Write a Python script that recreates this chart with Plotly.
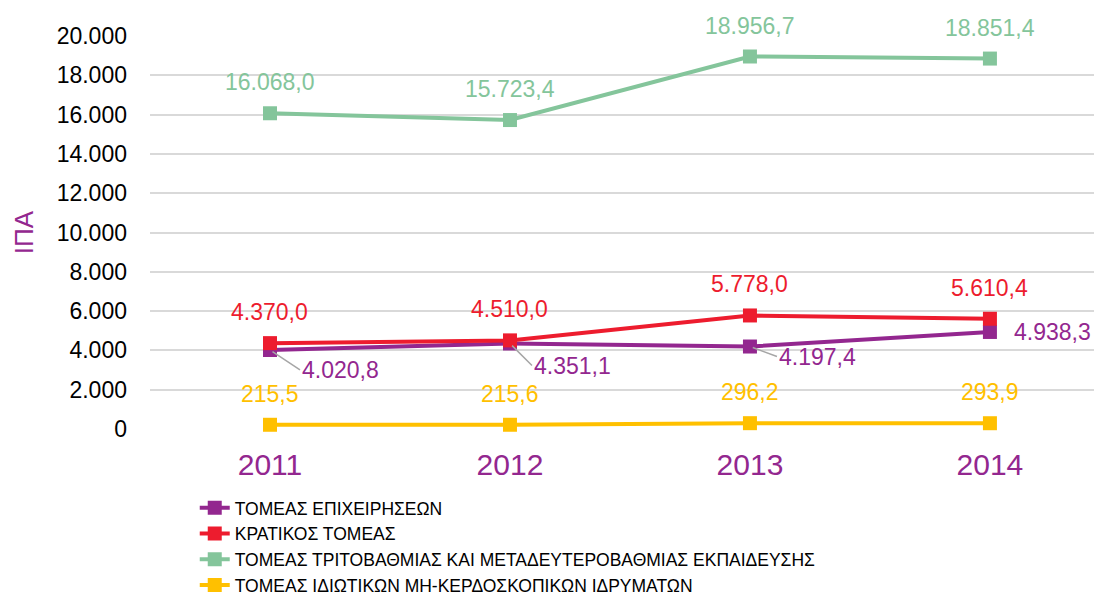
import plotly.graph_objects as go

years = ["2011", "2012", "2013", "2014"]
names = [
    "ΤΟΜΕΑΣ ΕΠΙΧΕΙΡΗΣΕΩΝ",
    "ΚΡΑΤΙΚΟΣ ΤΟΜΕΑΣ",
    "ΤΟΜΕΑΣ ΤΡΙΤΟΒΑΘΜΙΑΣ ΚΑΙ ΜΕΤΑΔΕΥΤΕΡΟΒΑΘΜΙΑΣ ΕΚΠΑΙΔΕΥΣΗΣ",
    "ΤΟΜΕΑΣ ΙΔΙΩΤΙΚΩΝ ΜΗ-ΚΕΡΔΟΣΚΟΠΙΚΩΝ ΙΔΡΥΜΑΤΩΝ",
]
business = [4020.8, 4351.1, 4197.4, 4938.3]
government = [4370.0, 4510.0, 5778.0, 5610.4]
higher_ed = [16068.0, 15723.4, 18956.7, 18851.4]
private_np = [215.5, 215.6, 296.2, 293.9]
y_ticks = [0, 2000, 4000, 6000, 8000, 10000, 12000, 14000, 16000, 18000, 20000]

colors = ["#93278F", "#ED1C2E", "#84C59B", "#FFC000"]
series = [business, government, higher_ed, private_np]

FONT = "Liberation Sans, Arial, sans-serif"


def fmt(v):
    s = f"{v:,.1f}"
    return s.replace(",", "X").replace(".", ",").replace("X", ".")


fig = go.Figure()
for name, vals, col in zip(names, series, colors):
    fig.add_trace(go.Scatter(
        x=years, y=vals, name=name, mode="lines+markers",
        line=dict(color=col, width=4),
        marker=dict(symbol="square", size=14, color=col),
        cliponaxis=False,
    ))

annotations = []
# labels above points: green, red, yellow
for vals, col in [(higher_ed, colors[2]), (government, colors[1]), (private_np, colors[3])]:
    for i, v in enumerate(vals):
        annotations.append(dict(
            xref="x", yref="y", x=i, y=v, text=fmt(v), showarrow=False, yshift=31,
            font=dict(family=FONT, size=23, color=col),
        ))
# purple labels with leader lines
offsets = [(30, 20), (22, 22), (27, 10)]
for i, v in enumerate(business):
    if i < 3:
        ax, ay = offsets[i]
        annotations.append(dict(
            xref="x", yref="y", x=i, y=v, text=fmt(v), showarrow=True, arrowhead=0,
            arrowcolor="#A6A6A6", arrowwidth=1.5, standoff=3,
            ax=ax, ay=ay, xanchor="left", yanchor="middle",
            font=dict(family=FONT, size=23, color=colors[0]),
        ))
    else:
        annotations.append(dict(
            xref="x", yref="y", x=i, y=v, text=fmt(v), showarrow=False,
            xshift=22, xanchor="left",
            font=dict(family=FONT, size=23, color=colors[0]),
        ))

fig.update_layout(
    width=1094, height=597,
    margin=dict(l=142, r=0, t=28, b=176),
    paper_bgcolor="white", plot_bgcolor="white",
    separators=",.",
    font=dict(family=FONT, size=23, color="#000000"),
    showlegend=True,
    legend=dict(
        x=0.047, xanchor="left", y=-0.155, yanchor="top",
        font=dict(family=FONT, size=17.5, color="#000000"),
        tracegroupgap=0,
    ),
    annotations=annotations,
    xaxis=dict(
        type="category", range=[-0.5, 3.467],
        showgrid=False, showline=False, zeroline=False,
        tickfont=dict(family=FONT, size=30, color="#93278F"),
        ticklabelstandoff=15,
    ),
    yaxis=dict(
        range=[0, 20000], tickvals=y_ticks, tickformat=",d",
        showgrid=True, gridcolor="#D9D9D9", gridwidth=1.5,
        zeroline=False, showline=False,
        tickfont=dict(family=FONT, size=23, color="#000000"),
        ticklabelstandoff=22,
        title=dict(text="ΙΠΑ", font=dict(family=FONT, size=26, color="#93278F"), standoff=15),
    ),
)

fig.write_html("out.html")
